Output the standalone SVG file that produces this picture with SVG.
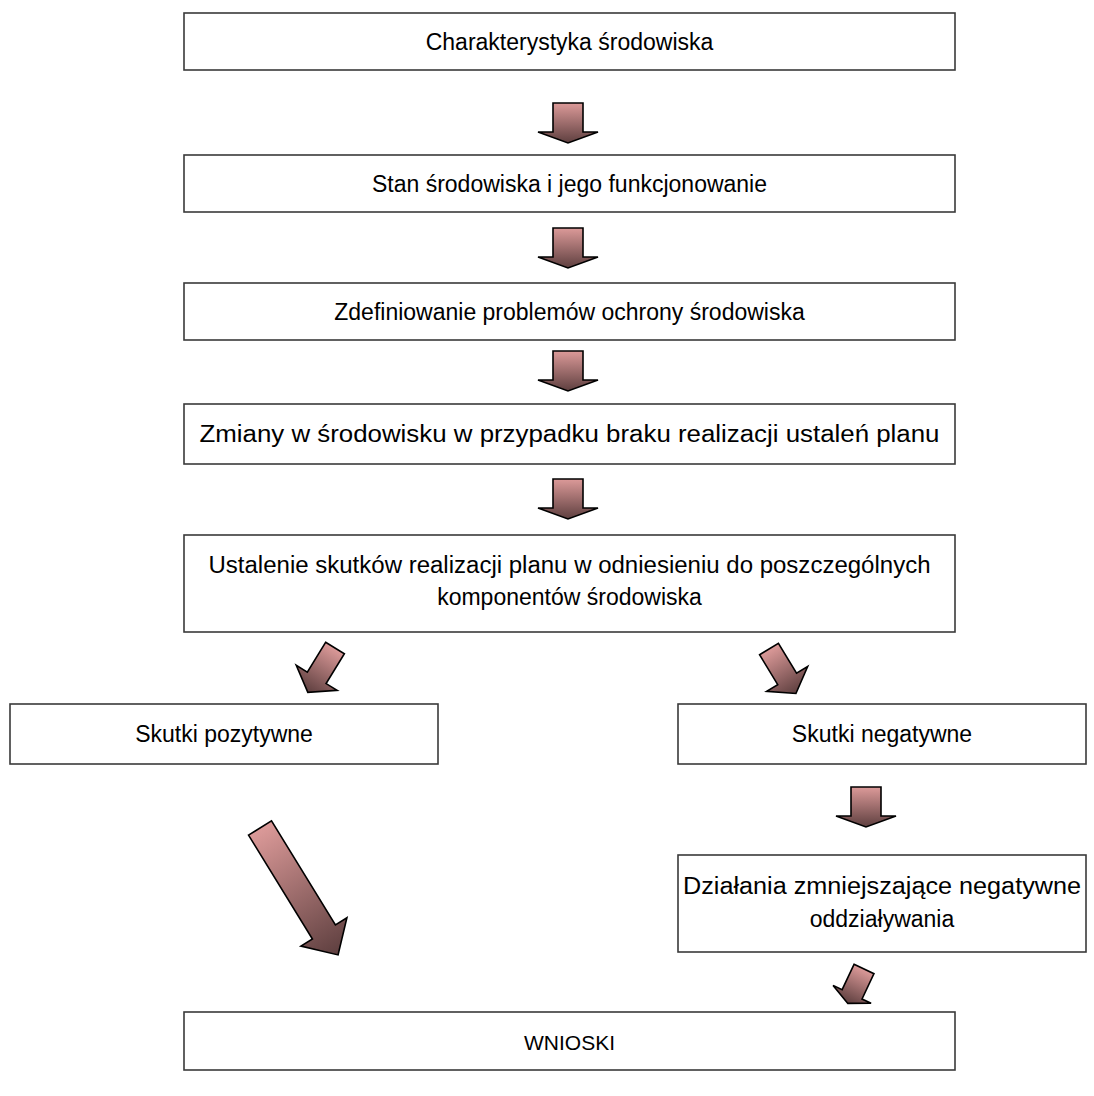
<svg xmlns="http://www.w3.org/2000/svg" width="1094" height="1096" viewBox="0 0 1094 1096">
<defs>
<linearGradient id="g" x1="0" y1="0" x2="0" y2="1">
<stop offset="0" stop-color="#dc9a99"/>
<stop offset="1" stop-color="#5e3f3f"/>
</linearGradient>
<path id="va" d="M-15,0 H15 V29 H30 L0,40 L-30,29 H-15 Z"/>
<path id="da" d="M-11,0 H11 V35 H24 L0,52 L-24,35 H-11 Z"/>
</defs>
<style>
.box{fill:#fff;stroke:#3a3a3a;stroke-width:1.6}
.arr{fill:url(#g);stroke:#000;stroke-width:1.6;stroke-linejoin:miter}
text{font-family:"Liberation Sans",Arial,sans-serif;font-size:23px;fill:#000;text-anchor:middle}
</style>
<rect width="1094" height="1096" fill="#fff"/>
<g id="n1"><rect class="box" x="184" y="13" width="771" height="57"/><text x="569.5" y="50">Charakterystyka środowiska</text></g>
<g id="n2"><rect class="box" x="184" y="155" width="771" height="57"/><text x="569.5" y="192">Stan środowiska i jego funkcjonowanie</text></g>
<g id="n3"><rect class="box" x="184" y="283" width="771" height="57"/><text x="569.5" y="320">Zdefiniowanie problemów ochrony środowiska</text></g>
<g id="n4"><rect class="box" x="184" y="404" width="771" height="60"/><text x="569.5" y="442" textLength="740" lengthAdjust="spacingAndGlyphs">Zmiany w środowisku w przypadku braku realizacji ustaleń planu</text></g>
<g id="n5"><rect class="box" x="184" y="535" width="771" height="97"/><text x="569.5" y="573" textLength="722" lengthAdjust="spacingAndGlyphs">Ustalenie skutków realizacji planu w odniesieniu do poszczególnych</text><text x="569.5" y="605">komponentów środowiska</text></g>
<g id="n6"><rect class="box" x="10" y="704" width="428" height="60"/><text x="224" y="742">Skutki pozytywne</text></g>
<g id="n7"><rect class="box" x="678" y="704" width="408" height="60"/><text x="882" y="742">Skutki negatywne</text></g>
<g id="n8"><rect class="box" x="678" y="855" width="408" height="97"/><text x="882" y="894" textLength="398" lengthAdjust="spacingAndGlyphs">Działania zmniejszające negatywne</text><text x="882" y="927">oddziaływania</text></g>
<g id="n9"><rect class="box" x="184" y="1012" width="771" height="58"/><text x="569.5" y="1050" style="font-size:21px">WNIOSKI</text></g>
<g id="connectors">
<use class="arr" href="#va" transform="translate(568,103)"/>
<use class="arr" href="#va" transform="translate(568,228)"/>
<use class="arr" href="#va" transform="translate(568,351)"/>
<use class="arr" href="#va" transform="translate(568,479)"/>
<use class="arr" href="#va" transform="translate(866,787)"/>
<use class="arr" href="#da" transform="translate(335,648) rotate(31.5)"/>
<use class="arr" href="#da" transform="translate(769,649) rotate(-31.2)"/>
<path class="arr" d="M-13.5,0 H13.5 V122 H27 L0,149 L-27,122 H-13.5 Z" transform="translate(260,828) rotate(-31.6)"/>
<path class="arr" d="M-11,0 H11 V28 H21 L0,38 L-21,28 H-11 Z" transform="translate(864,969) rotate(25.2)"/>
</g>
</svg>
